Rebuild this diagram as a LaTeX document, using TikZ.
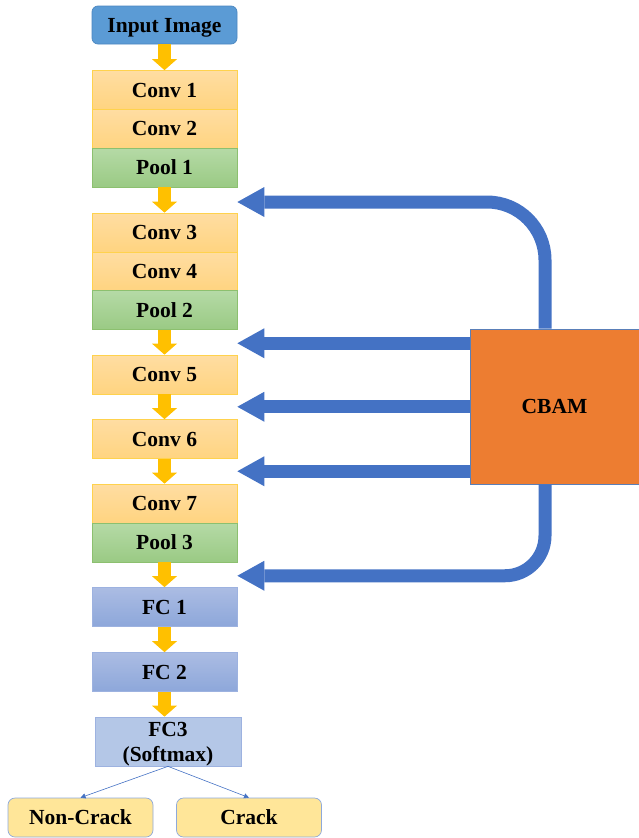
\documentclass[tikz,border=0pt]{standalone}
\usepackage{fontspec}
\setmainfont{Liberation Serif}
\usetikzlibrary{arrows.meta,calc}
\definecolor{ArrowY}{HTML}{FFC000}
\definecolor{ArrowB}{HTML}{4472C4}
\definecolor{ConvTop}{HTML}{FFDDA2}
\definecolor{ConvBot}{HTML}{FFD480}
\definecolor{ConvLine}{HTML}{FFD24D}
\definecolor{PoolTop}{HTML}{B5DAA6}
\definecolor{PoolBot}{HTML}{9ACA84}
\definecolor{PoolLine}{HTML}{8CC06F}
\definecolor{FCTop}{HTML}{ABBCE3}
\definecolor{FCBot}{HTML}{8DA7DA}
\definecolor{FCLine}{HTML}{9DB2E0}
\definecolor{FCThree}{HTML}{B4C7E7}
\definecolor{InFill}{HTML}{5B9BD5}
\definecolor{InLine}{HTML}{4A86C0}
\definecolor{OutFill}{HTML}{FFE699}
\definecolor{OutLine}{HTML}{8EA9DB}
\definecolor{Cbam}{HTML}{ED7D31}
\definecolor{CbamLine}{HTML}{5A7FB8}
\tikzset{
  blkbase/.style={rectangle, inner sep=0pt, minimum width=145pt, minimum height=39pt,
    align=center, font=\fontsize{21.5}{25}\selectfont\bfseries, line width=0.7pt},
  blk/.style={blkbase, text height=14.2pt, text depth=0pt},
  convbox/.style={blk, top color=ConvTop, bottom color=ConvBot, draw=ConvLine},
  poolbox/.style={blk, top color=PoolTop, bottom color=PoolBot, draw=PoolLine},
  fcbox/.style={blk, top color=FCTop, bottom color=FCBot, draw=FCLine},
  yarrow/.style={draw=ArrowY, line width=13pt,
    -{Triangle[width=25pt,length=11pt,line width=0pt]}},
  barrow/.style={draw=ArrowB, line width=13pt,
    -{Triangle[width=30pt,length=27pt,line width=0pt]}},
  tarrow/.style={draw=ArrowB, line width=0.6pt,
    -{Triangle[width=5pt,length=5pt]}},
}
\begin{document}
\begin{tikzpicture}[x=1pt,y=-1pt]
\useasboundingbox (0,0) rectangle (639,838);

\node[blk, fill=InFill, draw=InLine, rounded corners=6pt, minimum height=38pt] (input) at (164.5,25) {Input Image};
\node[convbox] (conv1) at (164.5,90) {Conv 1};
\node[convbox] (conv2) at (164.5,128.5) {Conv 2};
\node[poolbox] (pool1) at (164.5,167.5) {Pool 1};
\node[convbox] (conv3) at (164.5,232.5) {Conv 3};
\node[convbox] (conv4) at (164.5,271.5) {Conv 4};
\node[poolbox] (pool2) at (164.5,310) {Pool 2};
\node[convbox] (conv5) at (164.5,374.5) {Conv 5};
\node[convbox] (conv6) at (164.5,439) {Conv 6};
\node[convbox] (conv7) at (164.5,503.5) {Conv 7};
\node[poolbox] (pool3) at (164.5,542.5) {Pool 3};
\node[fcbox] (fc1) at (164.5,607) {FC 1};
\node[fcbox] (fc2) at (164.5,672) {FC 2};
\node[blkbase, fill=FCThree, draw=FCLine, minimum width=146pt, minimum height=49pt, text depth=0pt] (fc3) at (168,741.5) {FC3\\(Softmax)};
\node[blk, fill=OutFill, draw=OutLine, rounded corners=7pt] (noncrack) at (80.5,817.5) {Non-Crack};
\node[blk, fill=OutFill, draw=OutLine, rounded corners=7pt] (crack) at (249,817.5) {Crack};

\node[rectangle, fill=Cbam, draw=CbamLine, line width=0.6pt, minimum width=169pt, minimum height=155pt,
  inner sep=0pt, text height=14.2pt, text depth=0pt,
  font=\fontsize{21.5}{25}\selectfont\bfseries] (cbam) at (554.5,406.5) {CBAM};

% yellow block arrows
\draw[yarrow] (input.south) -- (conv1.north);
\draw[yarrow] (pool1.south) -- (conv3.north);
\draw[yarrow] (pool2.south) -- (conv5.north);
\draw[yarrow] (conv5.south) -- (conv6.north);
\draw[yarrow] (conv6.south) -- (conv7.north);
\draw[yarrow] (pool3.south) -- (fc1.north);
\draw[yarrow] (fc1.south) -- (fc2.north);
\draw[yarrow] (fc2.south) -- (fc3.north -| fc2.south);

% gap coordinates for attention arrows
\coordinate (g1) at ($(pool1.south east)!0.5!(conv3.north east)+(0,2)$);
\coordinate (g2) at ($(pool2.south east)!0.5!(conv5.north east)+(0,1)$);
\coordinate (g3) at ($(conv5.south east)!0.5!(conv6.north east)$);
\coordinate (g4) at ($(conv6.south east)!0.5!(conv7.north east)$);
\coordinate (g5) at ($(pool3.south east)!0.5!(fc1.north east)+(0,1)$);
\coordinate (ctop) at ($(cbam.north)+(-9.5,0)$);
\coordinate (cbot) at ($(cbam.south)+(-9.5,0)$);

% blue attention arrows
\draw[barrow, rounded corners=58pt] (ctop) |- (g1);
\draw[barrow] (cbam.west |- g2) -- (g2);
\draw[barrow] (cbam.west |- g3) -- (g3);
\draw[barrow] (cbam.west |- g4) -- (g4);
\draw[barrow, rounded corners=40pt] (cbot) |- (g5);

% output arrows
\draw[tarrow] (fc3.south) -- (noncrack.north);
\draw[tarrow] (fc3.south) -- (crack.north);
\end{tikzpicture}
\end{document}
